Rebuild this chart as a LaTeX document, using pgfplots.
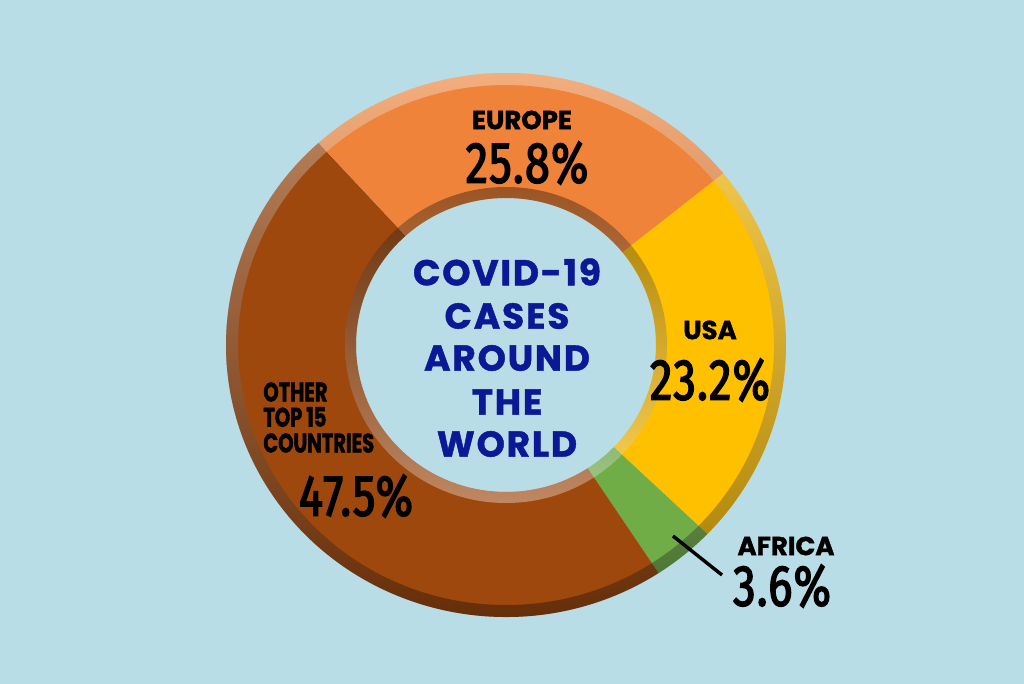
\documentclass[border=0pt]{standalone}
\usepackage{fontspec}
\setmainfont{Poppins}
\newfontfamily\titlefont[LetterSpace=5, FakeBold=1.2]{Poppins}
\newfontfamily\labelfont[FakeBold=1.5]{Poppins}
\newfontfamily\narrowfont[FakeStretch=0.72, FakeBold=1.5]{Poppins}
\newfontfamily\pctfont[FakeStretch=0.78, FakeBold=2.4, LetterSpace=2]{Fira Sans}
\usepackage{pgfplots}
\usepackage{pgfplotstable}
\pgfplotsset{compat=1.18}
\usetikzlibrary{calc}

\definecolor{bg}{HTML}{B9DDE6}
\definecolor{europe}{HTML}{EE8339}
\definecolor{usa}{HTML}{FFC000}
\definecolor{africa}{HTML}{70AD47}
\definecolor{other}{HTML}{9E480E}
\definecolor{titleblue}{HTML}{0A1A96}

% shares in percent, clockwise from the Europe/USA edge
\pgfplotstableread{
region pct
USA    23.2
Africa 3.6
Other  47.5
Europe 25.8
}\shares

\def\aStart{39.5}
\pgfplotstablegetelem{0}{pct}\of\shares \pgfmathsetmacro\aUSA{\aStart-3.6*\pgfplotsretval}
\pgfplotstablegetelem{1}{pct}\of\shares \pgfmathsetmacro\aAfr{\aUSA-3.6*\pgfplotsretval}
\pgfplotstablegetelem{2}{pct}\of\shares \pgfmathsetmacro\aOth{\aAfr-3.6*\pgfplotsretval}
\pgfplotstablegetelem{3}{pct}\of\shares \pgfmathsetmacro\aEur{\aOth-3.6*\pgfplotsretval}

% ring sector: start angle, end angle, colour
\newcommand\ringsector[3]{%
  \fill[#3] ($(C)+(#1:140pt and 136pt)$)
    arc[start angle=#1, end angle=#2, x radius=140pt, y radius=136pt]
    -- ($(C)+(#2:75pt and 73.5pt)$)
    arc[start angle=#2, end angle=#1, x radius=75pt, y radius=73.5pt] -- cycle;}

\begin{document}
\begin{tikzpicture}
\begin{axis}[
  width=512pt, height=342pt, scale only axis,
  xmin=0, xmax=1024, ymin=0, ymax=684, y dir=reverse,
  hide axis, clip=false,
]
\fill[bg] (axis cs:0,0) rectangle (axis cs:1024,684);
\coordinate (C) at (axis cs:506,345);

\ringsector{\aStart}{\aUSA}{usa}
\ringsector{\aUSA}{\aAfr}{africa}
\ringsector{\aAfr}{\aOth}{other}
\ringsector{\aOth}{\aEur}{europe}

% bevel on the outer and inner edges
\shade[even odd rule, top color=white, middle color=gray, bottom color=black, opacity=0.35]
  (C) ellipse[x radius=140pt, y radius=136pt] (C) ellipse[x radius=134pt, y radius=130pt];
\shade[even odd rule, top color=black, middle color=gray, bottom color=white, opacity=0.35]
  (C) ellipse[x radius=80.5pt, y radius=79pt] (C) ellipse[x radius=75pt, y radius=73.5pt];

% centre title
\begin{scope}[every node/.style={inner sep=0, text=titleblue, font=\titlefont\bfseries\fontsize{18}{20}\selectfont}]
\node at (axis cs:507,272) {COVID-19};
\node at (axis cs:507,316) {CASES};
\node at (axis cs:507,358) {AROUND};
\node at (axis cs:507,402) {THE};
\node at (axis cs:507,444) {WORLD};
\end{scope}

% labels
\begin{scope}[every node/.style={inner sep=0, text=black}]
\node[font=\labelfont\bfseries\fontsize{13}{15}\selectfont] at (axis cs:522,120) {EUROPE};
\node[font=\pctfont\fontsize{29}{32}\selectfont] at (axis cs:527,163) {25.8\%};
\node[font=\labelfont\bfseries\fontsize{13}{15}\selectfont] at (axis cs:710,330) {USA};
\node[font=\pctfont\fontsize{29}{32}\selectfont] at (axis cs:710,380) {23.2\%};
\node[anchor=west, font=\narrowfont\bfseries\fontsize{13.5}{15}\selectfont] at (axis cs:263,392) {OTHER};
\node[anchor=west, font=\narrowfont\bfseries\fontsize{13.5}{15}\selectfont] at (axis cs:263,417) {TOP 15};
\node[anchor=west, font=\narrowfont\bfseries\fontsize{13.5}{15}\selectfont] at (axis cs:263,443) {COUNTRIES};
\node[font=\pctfont\fontsize{29}{32}\selectfont] at (axis cs:356,496) {47.5\%};
\node[font=\labelfont\bfseries\fontsize{13}{15}\selectfont] at (axis cs:786,546) {AFRICA};
\node[font=\pctfont\fontsize{29}{32}\selectfont] at (axis cs:782,586) {3.6\%};
\end{scope}
\draw[line width=1.7pt] (axis cs:673,536) -- (axis cs:722,575);
\end{axis}
\end{tikzpicture}
\end{document}
